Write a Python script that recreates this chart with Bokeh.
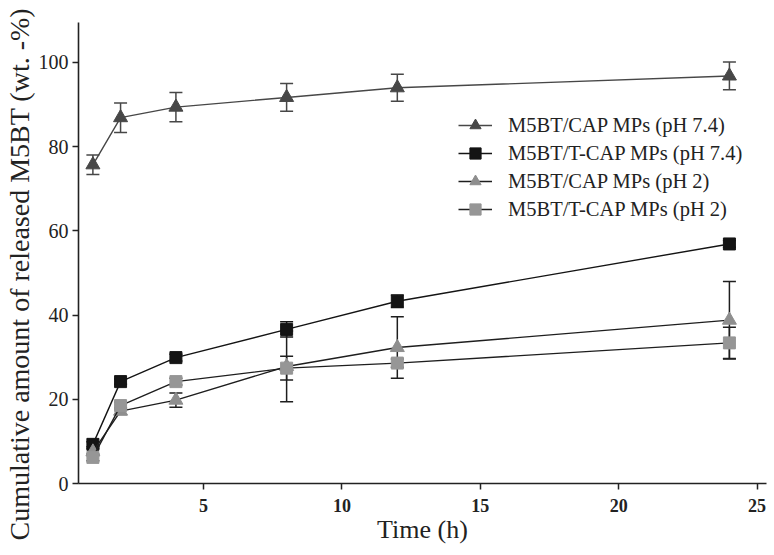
from bokeh.plotting import figure
from bokeh.models import (ColumnDataSource, Whisker, TeeHead, Legend, LegendItem,
                          FixedTicker, Range1d, Title)
from bokeh.embed import file_html
from bokeh.resources import INLINE

time_h = [1, 2, 4, 8, 12, 24]

cap_ph74 = [75.7, 86.9, 89.4, 91.7, 94.0, 96.8]
cap_ph74_err = [2.3, 3.5, 3.5, 3.3, 3.2, 3.3]

tcap_ph74 = [9.3, 24.2, 29.9, 36.6, 43.3, 56.9]
tcap_ph74_err = [0.6, 0.6, 0.8, 1.8, 1.5, 0.8]

cap_ph2 = [7.5, 17.2, 19.8, 27.8, 32.3, 38.8]
cap_ph2_err = [0.8, 0.8, 1.7, 8.4, 7.3, 9.2]

tcap_ph2 = [6.2, 18.5, 24.2, 27.4, 28.6, 33.4]
tcap_ph2_err = [0.8, 0.8, 0.8, 2.8, 1.0, 3.7]

labels = ["M5BT/CAP MPs (pH 7.4)", "M5BT/T-CAP MPs (pH 7.4)",
          "M5BT/CAP MPs (pH 2)", "M5BT/T-CAP MPs (pH 2)"]

x_ticks = [5, 10, 15, 20, 25]
y_ticks = [0, 20, 40, 60, 80, 100]

x_title = "Time (h)"
y_title = "Cumulative amount of released M5BT (wt. -%)"

FONT = "Liberation Serif"

p = figure(width=774, height=555, output_backend="svg", toolbar_location=None,
           x_range=Range1d(0.48, 25.34), y_range=Range1d(0, 109.5),
           min_border_left=78, min_border_right=8, min_border_top=22, min_border_bottom=72)
p.outline_line_color = None
p.xgrid.visible = False
p.ygrid.visible = False
p.background_fill_color = "white"

series = [
    (cap_ph74, cap_ph74_err, "triangle", "#474747", "#474747", "#474747", 14),
    (tcap_ph74, tcap_ph74_err, "square", "#141414", "#141414", "#141414", 12),
    (cap_ph2, cap_ph2_err, "triangle", "#8e8e8e", "#1e1e1e", "#1e1e1e", 14),
    (tcap_ph2, tcap_ph2_err, "square", "#969696", "#1e1e1e", "#1e1e1e", 12),
]

items = []
for (vals, errs, marker, mcol, lcol, ecol, size), lab in zip(series, labels):
    src = ColumnDataSource(dict(x=time_h, y=vals,
                                lo=[v - e for v, e in zip(vals, errs)],
                                hi=[v + e for v, e in zip(vals, errs)]))
    w = Whisker(base="x", lower="lo", upper="hi", source=src,
                line_color=ecol, line_width=1.5,
                upper_head=TeeHead(size=13, line_color=ecol, line_width=1.5),
                lower_head=TeeHead(size=13, line_color=ecol, line_width=1.5))
    p.add_layout(w)
    r_line = p.line("x", "y", source=src, line_color=lcol, line_width=1.4)
    r_mark = p.scatter("x", "y", source=src, marker=marker, size=size,
                       fill_color=mcol, line_color=mcol)
    items.append(LegendItem(label=lab, renderers=[r_line, r_mark]))

legend = Legend(items=items, location=(380, 260),
                border_line_color=None, background_fill_alpha=0,
                label_text_font=FONT, label_text_font_size="20.5px",
                label_text_color="#222222",
                glyph_width=34, glyph_height=28, label_height=28,
                label_standoff=16, spacing=0, padding=0, margin=0)
p.add_layout(legend)

p.xaxis.ticker = FixedTicker(ticks=x_ticks)
p.yaxis.ticker = FixedTicker(ticks=y_ticks)
for ax in (p.xaxis[0], p.yaxis[0]):
    ax.axis_line_width = 1.6
    ax.axis_line_color = "#222222"
    ax.major_tick_line_color = "#222222"
    ax.major_tick_line_width = 1.5
    ax.major_tick_in = 0
    ax.major_tick_out = 6
    ax.minor_tick_line_color = None
    ax.major_label_text_font = FONT
    ax.axis_label_text_font = FONT
    ax.axis_label_text_font_style = "normal"
    ax.axis_label_text_color = "#222222"
    ax.major_label_text_color = "#222222"

p.xaxis.axis_label = x_title
p.xaxis.axis_label_text_font_size = "26px"
p.xaxis.major_label_text_font_size = "18px"
p.xaxis.major_label_text_font_style = "bold"
p.xaxis.major_label_standoff = 9
p.xaxis.axis_label_standoff = 0

p.yaxis.major_label_text_font_size = "20px"
p.yaxis.major_label_standoff = 4

ytitle = Title(text=y_title, align="left", offset=-57, standoff=2,
               text_font=FONT, text_font_size="28px", text_font_style="normal",
               text_color="#222222")
p.add_layout(ytitle, "left")

open("out.html", "w").write(file_html(p, INLINE))
